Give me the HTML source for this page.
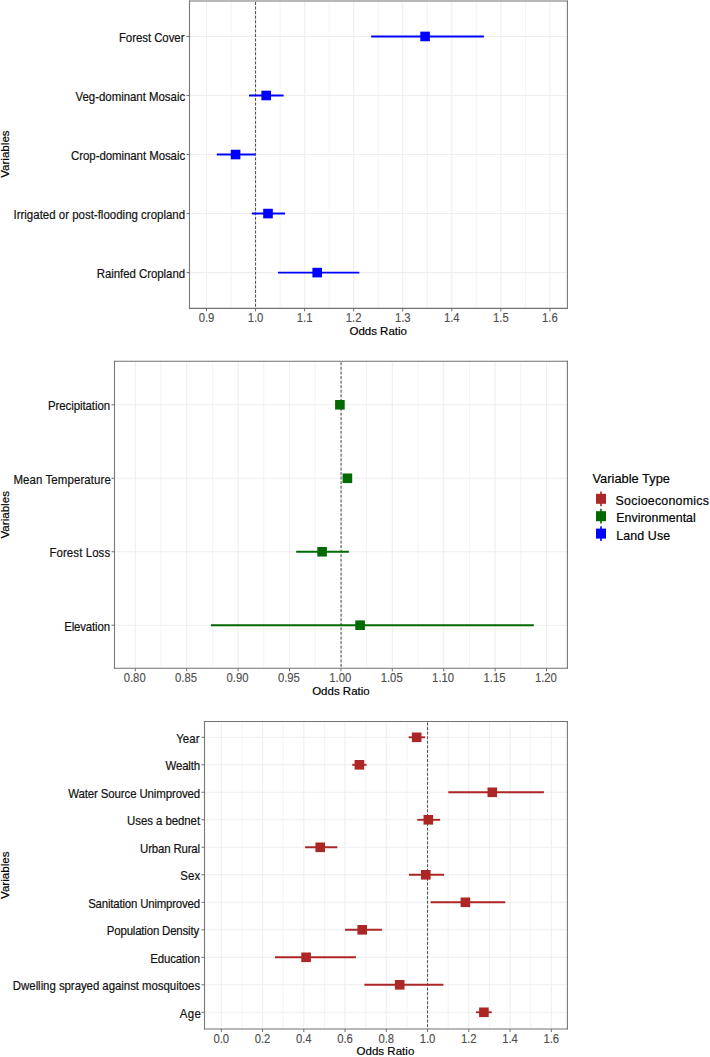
<!DOCTYPE html>
<html><head><meta charset="utf-8"><title>Odds Ratio Plots</title>
<style>
html,body{margin:0;padding:0;background:#fff;}
body{width:710px;height:1057px;overflow:hidden;}
svg{display:block;font-family:"Liberation Sans", sans-serif;}
</style></head>
<body>
<svg width="710" height="1057" viewBox="0 0 710 1057">
<rect x="0" y="0" width="710" height="1057" fill="#fff"/>
<line x1="231.03" y1="1" x2="231.03" y2="308.4" stroke="#f3f3f3" stroke-width="1"/>
<line x1="280.09" y1="1" x2="280.09" y2="308.4" stroke="#f3f3f3" stroke-width="1"/>
<line x1="329.15" y1="1" x2="329.15" y2="308.4" stroke="#f3f3f3" stroke-width="1"/>
<line x1="378.21" y1="1" x2="378.21" y2="308.4" stroke="#f3f3f3" stroke-width="1"/>
<line x1="427.27" y1="1" x2="427.27" y2="308.4" stroke="#f3f3f3" stroke-width="1"/>
<line x1="476.33" y1="1" x2="476.33" y2="308.4" stroke="#f3f3f3" stroke-width="1"/>
<line x1="525.39" y1="1" x2="525.39" y2="308.4" stroke="#f3f3f3" stroke-width="1"/>
<line x1="206.5" y1="1" x2="206.5" y2="308.4" stroke="#eeeeee" stroke-width="1.1"/>
<line x1="255.56" y1="1" x2="255.56" y2="308.4" stroke="#eeeeee" stroke-width="1.1"/>
<line x1="304.62" y1="1" x2="304.62" y2="308.4" stroke="#eeeeee" stroke-width="1.1"/>
<line x1="353.68" y1="1" x2="353.68" y2="308.4" stroke="#eeeeee" stroke-width="1.1"/>
<line x1="402.74" y1="1" x2="402.74" y2="308.4" stroke="#eeeeee" stroke-width="1.1"/>
<line x1="451.8" y1="1" x2="451.8" y2="308.4" stroke="#eeeeee" stroke-width="1.1"/>
<line x1="500.86" y1="1" x2="500.86" y2="308.4" stroke="#eeeeee" stroke-width="1.1"/>
<line x1="549.92" y1="1" x2="549.92" y2="308.4" stroke="#eeeeee" stroke-width="1.1"/>
<line x1="189.5" y1="36.45" x2="567.4" y2="36.45" stroke="#eeeeee" stroke-width="1.1"/>
<line x1="189.5" y1="95.49" x2="567.4" y2="95.49" stroke="#eeeeee" stroke-width="1.1"/>
<line x1="189.5" y1="154.53" x2="567.4" y2="154.53" stroke="#eeeeee" stroke-width="1.1"/>
<line x1="189.5" y1="213.57" x2="567.4" y2="213.57" stroke="#eeeeee" stroke-width="1.1"/>
<line x1="189.5" y1="272.61" x2="567.4" y2="272.61" stroke="#eeeeee" stroke-width="1.1"/>
<line x1="255.56" y1="1" x2="255.56" y2="308.4" stroke="#4a4a4a" stroke-width="1" stroke-dasharray="2.9 1.67" stroke-dashoffset="-1.05"/>
<line x1="371.2" y1="36.45" x2="483.9" y2="36.45" stroke="#0000ff" stroke-width="1.9"/>
<rect x="420.3" y="31.65" width="9.6" height="9.6" fill="#0000ff"/>
<line x1="249" y1="95.49" x2="283.6" y2="95.49" stroke="#0000ff" stroke-width="1.9"/>
<rect x="261.4" y="90.69" width="9.6" height="9.6" fill="#0000ff"/>
<line x1="216.8" y1="154.53" x2="255.4" y2="154.53" stroke="#0000ff" stroke-width="1.9"/>
<rect x="230.8" y="149.73" width="9.6" height="9.6" fill="#0000ff"/>
<line x1="251.8" y1="213.57" x2="285" y2="213.57" stroke="#0000ff" stroke-width="1.9"/>
<rect x="263.2" y="208.77" width="9.6" height="9.6" fill="#0000ff"/>
<line x1="278" y1="272.61" x2="359.3" y2="272.61" stroke="#0000ff" stroke-width="1.9"/>
<rect x="312.4" y="267.81" width="9.6" height="9.6" fill="#0000ff"/>
<line x1="188.95" y1="1" x2="567.95" y2="1" stroke="#727272" stroke-width="1.1"/>
<line x1="188.95" y1="308.4" x2="567.95" y2="308.4" stroke="#727272" stroke-width="1.1"/>
<line x1="189.5" y1="0.45" x2="189.5" y2="308.95" stroke="#787878" stroke-width="1.1"/>
<line x1="567.4" y1="0.45" x2="567.4" y2="308.95" stroke="#787878" stroke-width="1.1"/>
<line x1="186.5" y1="36.45" x2="189.5" y2="36.45" stroke="#707070" stroke-width="1"/>
<text id="t0" x="118.89" y="41.95" textLength="65.59" lengthAdjust="spacing" font-size="11.45" fill="#111111" stroke="#111111" stroke-width="0.18" transform="matrix(1 0 0 1.08 0 -3.356)">Forest Cover</text>
<line x1="186.5" y1="95.49" x2="189.5" y2="95.49" stroke="#707070" stroke-width="1"/>
<text id="t1" x="75.5" y="100.99" textLength="109.65" lengthAdjust="spacing" font-size="11.45" fill="#111111" stroke="#111111" stroke-width="0.18" transform="matrix(1 0 0 1.08 0 -8.079)">Veg-dominant Mosaic</text>
<line x1="186.5" y1="154.53" x2="189.5" y2="154.53" stroke="#707070" stroke-width="1"/>
<text id="t2" x="71.04" y="160.03" textLength="114.12" lengthAdjust="spacing" font-size="11.45" fill="#111111" stroke="#111111" stroke-width="0.18" transform="matrix(1 0 0 1.08 0 -12.802)">Crop-dominant Mosaic</text>
<line x1="186.5" y1="213.57" x2="189.5" y2="213.57" stroke="#707070" stroke-width="1"/>
<text id="t3" x="13.47" y="219.07" textLength="171.63" lengthAdjust="spacing" font-size="11.45" fill="#111111" stroke="#111111" stroke-width="0.18" transform="matrix(1 0 0 1.08 0 -17.526)">Irrigated or post-flooding cropland</text>
<line x1="186.5" y1="272.61" x2="189.5" y2="272.61" stroke="#707070" stroke-width="1"/>
<text id="t4" x="96.68" y="278.11" textLength="88.42" lengthAdjust="spacing" font-size="11.45" fill="#111111" stroke="#111111" stroke-width="0.18" transform="matrix(1 0 0 1.08 0 -22.249)">Rainfed Cropland</text>
<line x1="206.5" y1="308.4" x2="206.5" y2="311.4" stroke="#707070" stroke-width="1"/>
<text id="t5" x="206.5" y="322.3" text-anchor="middle" font-size="11.3" fill="#4d4d4d" stroke="#4d4d4d" stroke-width="0.12" transform="matrix(1 0 0 1.08 0 -25.784)">0.9</text>
<line x1="255.56" y1="308.4" x2="255.56" y2="311.4" stroke="#707070" stroke-width="1"/>
<text id="t6" x="255.56" y="322.3" text-anchor="middle" font-size="11.3" fill="#4d4d4d" stroke="#4d4d4d" stroke-width="0.12" transform="matrix(1 0 0 1.08 0 -25.784)">1.0</text>
<line x1="304.62" y1="308.4" x2="304.62" y2="311.4" stroke="#707070" stroke-width="1"/>
<text id="t7" x="304.62" y="322.3" text-anchor="middle" font-size="11.3" fill="#4d4d4d" stroke="#4d4d4d" stroke-width="0.12" transform="matrix(1 0 0 1.08 0 -25.784)">1.1</text>
<line x1="353.68" y1="308.4" x2="353.68" y2="311.4" stroke="#707070" stroke-width="1"/>
<text id="t8" x="353.68" y="322.3" text-anchor="middle" font-size="11.3" fill="#4d4d4d" stroke="#4d4d4d" stroke-width="0.12" transform="matrix(1 0 0 1.08 0 -25.784)">1.2</text>
<line x1="402.74" y1="308.4" x2="402.74" y2="311.4" stroke="#707070" stroke-width="1"/>
<text id="t9" x="402.74" y="322.3" text-anchor="middle" font-size="11.3" fill="#4d4d4d" stroke="#4d4d4d" stroke-width="0.12" transform="matrix(1 0 0 1.08 0 -25.784)">1.3</text>
<line x1="451.8" y1="308.4" x2="451.8" y2="311.4" stroke="#707070" stroke-width="1"/>
<text id="t10" x="451.8" y="322.3" text-anchor="middle" font-size="11.3" fill="#4d4d4d" stroke="#4d4d4d" stroke-width="0.12" transform="matrix(1 0 0 1.08 0 -25.784)">1.4</text>
<line x1="500.86" y1="308.4" x2="500.86" y2="311.4" stroke="#707070" stroke-width="1"/>
<text id="t11" x="500.86" y="322.3" text-anchor="middle" font-size="11.3" fill="#4d4d4d" stroke="#4d4d4d" stroke-width="0.12" transform="matrix(1 0 0 1.08 0 -25.784)">1.5</text>
<line x1="549.92" y1="308.4" x2="549.92" y2="311.4" stroke="#707070" stroke-width="1"/>
<text id="t12" x="549.92" y="322.3" text-anchor="middle" font-size="11.3" fill="#4d4d4d" stroke="#4d4d4d" stroke-width="0.12" transform="matrix(1 0 0 1.08 0 -25.784)">1.6</text>
<text id="t13" x="349.48" y="334.6" textLength="57.43" lengthAdjust="spacing" font-size="11.5" fill="#000000" stroke="#000000" stroke-width="0.18">Odds Ratio</text>
<text transform="translate(9.2 154.1) rotate(-90)" x="0" y="0" text-anchor="middle" font-size="11.6" fill="#000000" stroke="#000000" stroke-width="0.18">Variables</text>
<line x1="161" y1="361.3" x2="161" y2="668.3" stroke="#f3f3f3" stroke-width="1"/>
<line x1="212.4" y1="361.3" x2="212.4" y2="668.3" stroke="#f3f3f3" stroke-width="1"/>
<line x1="263.8" y1="361.3" x2="263.8" y2="668.3" stroke="#f3f3f3" stroke-width="1"/>
<line x1="315.2" y1="361.3" x2="315.2" y2="668.3" stroke="#f3f3f3" stroke-width="1"/>
<line x1="366.6" y1="361.3" x2="366.6" y2="668.3" stroke="#f3f3f3" stroke-width="1"/>
<line x1="418" y1="361.3" x2="418" y2="668.3" stroke="#f3f3f3" stroke-width="1"/>
<line x1="469.4" y1="361.3" x2="469.4" y2="668.3" stroke="#f3f3f3" stroke-width="1"/>
<line x1="520.8" y1="361.3" x2="520.8" y2="668.3" stroke="#f3f3f3" stroke-width="1"/>
<line x1="135.3" y1="361.3" x2="135.3" y2="668.3" stroke="#eeeeee" stroke-width="1.1"/>
<line x1="186.7" y1="361.3" x2="186.7" y2="668.3" stroke="#eeeeee" stroke-width="1.1"/>
<line x1="238.1" y1="361.3" x2="238.1" y2="668.3" stroke="#eeeeee" stroke-width="1.1"/>
<line x1="289.5" y1="361.3" x2="289.5" y2="668.3" stroke="#eeeeee" stroke-width="1.1"/>
<line x1="340.9" y1="361.3" x2="340.9" y2="668.3" stroke="#eeeeee" stroke-width="1.1"/>
<line x1="392.3" y1="361.3" x2="392.3" y2="668.3" stroke="#eeeeee" stroke-width="1.1"/>
<line x1="443.7" y1="361.3" x2="443.7" y2="668.3" stroke="#eeeeee" stroke-width="1.1"/>
<line x1="495.1" y1="361.3" x2="495.1" y2="668.3" stroke="#eeeeee" stroke-width="1.1"/>
<line x1="546.5" y1="361.3" x2="546.5" y2="668.3" stroke="#eeeeee" stroke-width="1.1"/>
<line x1="114.5" y1="404.8" x2="567.4" y2="404.8" stroke="#eeeeee" stroke-width="1.1"/>
<line x1="114.5" y1="478.27" x2="567.4" y2="478.27" stroke="#eeeeee" stroke-width="1.1"/>
<line x1="114.5" y1="551.74" x2="567.4" y2="551.74" stroke="#eeeeee" stroke-width="1.1"/>
<line x1="114.5" y1="625.21" x2="567.4" y2="625.21" stroke="#eeeeee" stroke-width="1.1"/>
<line x1="341.1" y1="361.3" x2="341.1" y2="668.3" stroke="#4a4a4a" stroke-width="1" stroke-dasharray="2.9 1.67" stroke-dashoffset="-1.05"/>
<rect x="335.1" y="400" width="9.6" height="9.6" fill="#006a00"/>
<rect x="342.6" y="473.47" width="9.6" height="9.6" fill="#006a00"/>
<line x1="296.2" y1="551.74" x2="348.9" y2="551.74" stroke="#006a00" stroke-width="1.9"/>
<rect x="317.3" y="546.94" width="9.6" height="9.6" fill="#006a00"/>
<line x1="210.9" y1="625.21" x2="533.8" y2="625.21" stroke="#006a00" stroke-width="1.9"/>
<rect x="355.3" y="620.41" width="9.6" height="9.6" fill="#006a00"/>
<line x1="113.95" y1="361.3" x2="567.95" y2="361.3" stroke="#727272" stroke-width="1.1"/>
<line x1="113.95" y1="668.3" x2="567.95" y2="668.3" stroke="#727272" stroke-width="1.1"/>
<line x1="114.5" y1="360.75" x2="114.5" y2="668.85" stroke="#787878" stroke-width="1.1"/>
<line x1="567.4" y1="360.75" x2="567.4" y2="668.85" stroke="#787878" stroke-width="1.1"/>
<line x1="111.5" y1="404.8" x2="114.5" y2="404.8" stroke="#707070" stroke-width="1"/>
<text id="t14" x="47.95" y="410.3" textLength="62.15" lengthAdjust="spacing" font-size="11.45" fill="#111111" stroke="#111111" stroke-width="0.18" transform="matrix(1 0 0 1.08 0 -32.824)">Precipitation</text>
<line x1="111.5" y1="478.27" x2="114.5" y2="478.27" stroke="#707070" stroke-width="1"/>
<text id="t15" x="13.4" y="483.77" textLength="97.42" lengthAdjust="spacing" font-size="11.45" fill="#111111" stroke="#111111" stroke-width="0.18" transform="matrix(1 0 0 1.08 0 -38.702)">Mean Temperature</text>
<line x1="111.5" y1="551.74" x2="114.5" y2="551.74" stroke="#707070" stroke-width="1"/>
<text id="t16" x="49.43" y="557.24" textLength="60.71" lengthAdjust="spacing" font-size="11.45" fill="#111111" stroke="#111111" stroke-width="0.18" transform="matrix(1 0 0 1.08 0 -44.579)">Forest Loss</text>
<line x1="111.5" y1="625.21" x2="114.5" y2="625.21" stroke="#707070" stroke-width="1"/>
<text id="t17" x="64.14" y="630.71" textLength="45.96" lengthAdjust="spacing" font-size="11.45" fill="#111111" stroke="#111111" stroke-width="0.18" transform="matrix(1 0 0 1.08 0 -50.457)">Elevation</text>
<line x1="135.3" y1="668.3" x2="135.3" y2="671.3" stroke="#707070" stroke-width="1"/>
<text id="t18" x="134.7" y="682.2" text-anchor="middle" font-size="11.3" fill="#4d4d4d" stroke="#4d4d4d" stroke-width="0.12" transform="matrix(1 0 0 1.08 0 -54.576)">0.80</text>
<line x1="186.7" y1="668.3" x2="186.7" y2="671.3" stroke="#707070" stroke-width="1"/>
<text id="t19" x="186.1" y="682.2" text-anchor="middle" font-size="11.3" fill="#4d4d4d" stroke="#4d4d4d" stroke-width="0.12" transform="matrix(1 0 0 1.08 0 -54.576)">0.85</text>
<line x1="238.1" y1="668.3" x2="238.1" y2="671.3" stroke="#707070" stroke-width="1"/>
<text id="t20" x="237.5" y="682.2" text-anchor="middle" font-size="11.3" fill="#4d4d4d" stroke="#4d4d4d" stroke-width="0.12" transform="matrix(1 0 0 1.08 0 -54.576)">0.90</text>
<line x1="289.5" y1="668.3" x2="289.5" y2="671.3" stroke="#707070" stroke-width="1"/>
<text id="t21" x="288.9" y="682.2" text-anchor="middle" font-size="11.3" fill="#4d4d4d" stroke="#4d4d4d" stroke-width="0.12" transform="matrix(1 0 0 1.08 0 -54.576)">0.95</text>
<line x1="340.9" y1="668.3" x2="340.9" y2="671.3" stroke="#707070" stroke-width="1"/>
<text id="t22" x="340.3" y="682.2" text-anchor="middle" font-size="11.3" fill="#4d4d4d" stroke="#4d4d4d" stroke-width="0.12" transform="matrix(1 0 0 1.08 0 -54.576)">1.00</text>
<line x1="392.3" y1="668.3" x2="392.3" y2="671.3" stroke="#707070" stroke-width="1"/>
<text id="t23" x="391.7" y="682.2" text-anchor="middle" font-size="11.3" fill="#4d4d4d" stroke="#4d4d4d" stroke-width="0.12" transform="matrix(1 0 0 1.08 0 -54.576)">1.05</text>
<line x1="443.7" y1="668.3" x2="443.7" y2="671.3" stroke="#707070" stroke-width="1"/>
<text id="t24" x="443.1" y="682.2" text-anchor="middle" font-size="11.3" fill="#4d4d4d" stroke="#4d4d4d" stroke-width="0.12" transform="matrix(1 0 0 1.08 0 -54.576)">1.10</text>
<line x1="495.1" y1="668.3" x2="495.1" y2="671.3" stroke="#707070" stroke-width="1"/>
<text id="t25" x="494.5" y="682.2" text-anchor="middle" font-size="11.3" fill="#4d4d4d" stroke="#4d4d4d" stroke-width="0.12" transform="matrix(1 0 0 1.08 0 -54.576)">1.15</text>
<line x1="546.5" y1="668.3" x2="546.5" y2="671.3" stroke="#707070" stroke-width="1"/>
<text id="t26" x="545.9" y="682.2" text-anchor="middle" font-size="11.3" fill="#4d4d4d" stroke="#4d4d4d" stroke-width="0.12" transform="matrix(1 0 0 1.08 0 -54.576)">1.20</text>
<text id="t27" x="340.95" y="694.6" text-anchor="middle" font-size="11.5" fill="#000000" stroke="#000000" stroke-width="0.18">Odds Ratio</text>
<text transform="translate(9.2 514.8) rotate(-90)" x="0" y="0" text-anchor="middle" font-size="11.6" fill="#000000" stroke="#000000" stroke-width="0.18">Variables</text>
<line x1="241.93" y1="721.5" x2="241.93" y2="1029" stroke="#f3f3f3" stroke-width="1"/>
<line x1="283.18" y1="721.5" x2="283.18" y2="1029" stroke="#f3f3f3" stroke-width="1"/>
<line x1="324.43" y1="721.5" x2="324.43" y2="1029" stroke="#f3f3f3" stroke-width="1"/>
<line x1="365.68" y1="721.5" x2="365.68" y2="1029" stroke="#f3f3f3" stroke-width="1"/>
<line x1="406.93" y1="721.5" x2="406.93" y2="1029" stroke="#f3f3f3" stroke-width="1"/>
<line x1="448.18" y1="721.5" x2="448.18" y2="1029" stroke="#f3f3f3" stroke-width="1"/>
<line x1="489.43" y1="721.5" x2="489.43" y2="1029" stroke="#f3f3f3" stroke-width="1"/>
<line x1="530.67" y1="721.5" x2="530.67" y2="1029" stroke="#f3f3f3" stroke-width="1"/>
<line x1="221.3" y1="721.5" x2="221.3" y2="1029" stroke="#eeeeee" stroke-width="1.1"/>
<line x1="262.55" y1="721.5" x2="262.55" y2="1029" stroke="#eeeeee" stroke-width="1.1"/>
<line x1="303.8" y1="721.5" x2="303.8" y2="1029" stroke="#eeeeee" stroke-width="1.1"/>
<line x1="345.05" y1="721.5" x2="345.05" y2="1029" stroke="#eeeeee" stroke-width="1.1"/>
<line x1="386.3" y1="721.5" x2="386.3" y2="1029" stroke="#eeeeee" stroke-width="1.1"/>
<line x1="427.55" y1="721.5" x2="427.55" y2="1029" stroke="#eeeeee" stroke-width="1.1"/>
<line x1="468.8" y1="721.5" x2="468.8" y2="1029" stroke="#eeeeee" stroke-width="1.1"/>
<line x1="510.05" y1="721.5" x2="510.05" y2="1029" stroke="#eeeeee" stroke-width="1.1"/>
<line x1="551.3" y1="721.5" x2="551.3" y2="1029" stroke="#eeeeee" stroke-width="1.1"/>
<line x1="204.5" y1="737.3" x2="567.4" y2="737.3" stroke="#eeeeee" stroke-width="1.1"/>
<line x1="204.5" y1="764.8" x2="567.4" y2="764.8" stroke="#eeeeee" stroke-width="1.1"/>
<line x1="204.5" y1="792.3" x2="567.4" y2="792.3" stroke="#eeeeee" stroke-width="1.1"/>
<line x1="204.5" y1="819.8" x2="567.4" y2="819.8" stroke="#eeeeee" stroke-width="1.1"/>
<line x1="204.5" y1="847.3" x2="567.4" y2="847.3" stroke="#eeeeee" stroke-width="1.1"/>
<line x1="204.5" y1="874.8" x2="567.4" y2="874.8" stroke="#eeeeee" stroke-width="1.1"/>
<line x1="204.5" y1="902.3" x2="567.4" y2="902.3" stroke="#eeeeee" stroke-width="1.1"/>
<line x1="204.5" y1="929.8" x2="567.4" y2="929.8" stroke="#eeeeee" stroke-width="1.1"/>
<line x1="204.5" y1="957.3" x2="567.4" y2="957.3" stroke="#eeeeee" stroke-width="1.1"/>
<line x1="204.5" y1="984.8" x2="567.4" y2="984.8" stroke="#eeeeee" stroke-width="1.1"/>
<line x1="204.5" y1="1012.3" x2="567.4" y2="1012.3" stroke="#eeeeee" stroke-width="1.1"/>
<line x1="427.55" y1="721.5" x2="427.55" y2="1029" stroke="#4a4a4a" stroke-width="1" stroke-dasharray="2.9 1.67" stroke-dashoffset="-1.05"/>
<line x1="408.7" y1="737.3" x2="425.1" y2="737.3" stroke="#ac2626" stroke-width="1.9"/>
<rect x="411.9" y="732.5" width="9.6" height="9.6" fill="#ac2626"/>
<line x1="352.2" y1="764.8" x2="366.6" y2="764.8" stroke="#ac2626" stroke-width="1.9"/>
<rect x="354.6" y="760" width="9.6" height="9.6" fill="#ac2626"/>
<line x1="448.3" y1="792.3" x2="543.9" y2="792.3" stroke="#ac2626" stroke-width="1.9"/>
<rect x="487.5" y="787.5" width="9.6" height="9.6" fill="#ac2626"/>
<line x1="417.3" y1="819.8" x2="440.1" y2="819.8" stroke="#ac2626" stroke-width="1.9"/>
<rect x="423.5" y="815" width="9.6" height="9.6" fill="#ac2626"/>
<line x1="305.1" y1="847.3" x2="337.3" y2="847.3" stroke="#ac2626" stroke-width="1.9"/>
<rect x="315.4" y="842.5" width="9.6" height="9.6" fill="#ac2626"/>
<line x1="409" y1="874.8" x2="444.1" y2="874.8" stroke="#ac2626" stroke-width="1.9"/>
<rect x="421" y="870" width="9.6" height="9.6" fill="#ac2626"/>
<line x1="430.6" y1="902.3" x2="505.3" y2="902.3" stroke="#ac2626" stroke-width="1.9"/>
<rect x="460.6" y="897.5" width="9.6" height="9.6" fill="#ac2626"/>
<line x1="345" y1="929.8" x2="381.9" y2="929.8" stroke="#ac2626" stroke-width="1.9"/>
<rect x="357.4" y="925" width="9.6" height="9.6" fill="#ac2626"/>
<line x1="275" y1="957.3" x2="355.9" y2="957.3" stroke="#ac2626" stroke-width="1.9"/>
<rect x="301.3" y="952.5" width="9.6" height="9.6" fill="#ac2626"/>
<line x1="364.4" y1="984.8" x2="443.4" y2="984.8" stroke="#ac2626" stroke-width="1.9"/>
<rect x="394.9" y="980" width="9.6" height="9.6" fill="#ac2626"/>
<line x1="476" y1="1012.3" x2="491.8" y2="1012.3" stroke="#ac2626" stroke-width="1.9"/>
<rect x="479.1" y="1007.5" width="9.6" height="9.6" fill="#ac2626"/>
<line x1="203.95" y1="721.5" x2="567.95" y2="721.5" stroke="#727272" stroke-width="1.1"/>
<line x1="203.95" y1="1029" x2="567.95" y2="1029" stroke="#727272" stroke-width="1.1"/>
<line x1="204.5" y1="720.95" x2="204.5" y2="1029.55" stroke="#787878" stroke-width="1.1"/>
<line x1="567.4" y1="720.95" x2="567.4" y2="1029.55" stroke="#787878" stroke-width="1.1"/>
<line x1="201.5" y1="737.3" x2="204.5" y2="737.3" stroke="#707070" stroke-width="1"/>
<text id="t28" x="176.19" y="742.8" textLength="23.30" lengthAdjust="spacing" font-size="11.45" fill="#111111" stroke="#111111" stroke-width="0.18" transform="matrix(1 0 0 1.08 0 -59.424)">Year</text>
<line x1="201.5" y1="764.8" x2="204.5" y2="764.8" stroke="#707070" stroke-width="1"/>
<text id="t29" x="165.61" y="770.3" textLength="34.49" lengthAdjust="spacing" font-size="11.45" fill="#111111" stroke="#111111" stroke-width="0.18" transform="matrix(1 0 0 1.08 0 -61.624)">Wealth</text>
<line x1="201.5" y1="792.3" x2="204.5" y2="792.3" stroke="#707070" stroke-width="1"/>
<text id="t30" x="68.26" y="797.8" textLength="131.84" lengthAdjust="spacing" font-size="11.45" fill="#111111" stroke="#111111" stroke-width="0.18" transform="matrix(1 0 0 1.08 0 -63.824)">Water Source Unimproved</text>
<line x1="201.5" y1="819.8" x2="204.5" y2="819.8" stroke="#707070" stroke-width="1"/>
<text id="t31" x="127.03" y="825.3" textLength="73.06" lengthAdjust="spacing" font-size="11.45" fill="#111111" stroke="#111111" stroke-width="0.18" transform="matrix(1 0 0 1.08 0 -66.024)">Uses a bednet</text>
<line x1="201.5" y1="847.3" x2="204.5" y2="847.3" stroke="#707070" stroke-width="1"/>
<text id="t32" x="140.13" y="852.8" textLength="59.97" lengthAdjust="spacing" font-size="11.45" fill="#111111" stroke="#111111" stroke-width="0.18" transform="matrix(1 0 0 1.08 0 -68.224)">Urban Rural</text>
<line x1="201.5" y1="874.8" x2="204.5" y2="874.8" stroke="#707070" stroke-width="1"/>
<text id="t33" x="180.28" y="880.3" textLength="19.87" lengthAdjust="spacing" font-size="11.45" fill="#111111" stroke="#111111" stroke-width="0.18" transform="matrix(1 0 0 1.08 0 -70.424)">Sex</text>
<line x1="201.5" y1="902.3" x2="204.5" y2="902.3" stroke="#707070" stroke-width="1"/>
<text id="t34" x="88.18" y="907.8" textLength="111.92" lengthAdjust="spacing" font-size="11.45" fill="#111111" stroke="#111111" stroke-width="0.18" transform="matrix(1 0 0 1.08 0 -72.624)">Sanitation Unimproved</text>
<line x1="201.5" y1="929.8" x2="204.5" y2="929.8" stroke="#707070" stroke-width="1"/>
<text id="t35" x="106.83" y="935.3" textLength="92.33" lengthAdjust="spacing" font-size="11.45" fill="#111111" stroke="#111111" stroke-width="0.18" transform="matrix(1 0 0 1.08 0 -74.824)">Population Density</text>
<line x1="201.5" y1="957.3" x2="204.5" y2="957.3" stroke="#707070" stroke-width="1"/>
<text id="t36" x="150.33" y="962.8" textLength="49.77" lengthAdjust="spacing" font-size="11.45" fill="#111111" stroke="#111111" stroke-width="0.18" transform="matrix(1 0 0 1.08 0 -77.024)">Education</text>
<line x1="201.5" y1="984.8" x2="204.5" y2="984.8" stroke="#707070" stroke-width="1"/>
<text id="t37" x="12.87" y="990.3" textLength="187.28" lengthAdjust="spacing" font-size="11.45" fill="#111111" stroke="#111111" stroke-width="0.18" transform="matrix(1 0 0 1.08 0 -79.224)">Dwelling sprayed against mosquitoes</text>
<line x1="201.5" y1="1012.3" x2="204.5" y2="1012.3" stroke="#707070" stroke-width="1"/>
<text id="t38" x="179.84" y="1017.8" textLength="20.98" lengthAdjust="spacing" font-size="11.45" fill="#111111" stroke="#111111" stroke-width="0.18" transform="matrix(1 0 0 1.08 0 -81.424)">Age</text>
<line x1="221.3" y1="1029" x2="221.3" y2="1032" stroke="#707070" stroke-width="1"/>
<text id="t39" x="221.3" y="1042.9" text-anchor="middle" font-size="11.3" fill="#4d4d4d" stroke="#4d4d4d" stroke-width="0.12" transform="matrix(1 0 0 1.08 0 -83.432)">0.0</text>
<line x1="262.55" y1="1029" x2="262.55" y2="1032" stroke="#707070" stroke-width="1"/>
<text id="t40" x="262.55" y="1042.9" text-anchor="middle" font-size="11.3" fill="#4d4d4d" stroke="#4d4d4d" stroke-width="0.12" transform="matrix(1 0 0 1.08 0 -83.432)">0.2</text>
<line x1="303.8" y1="1029" x2="303.8" y2="1032" stroke="#707070" stroke-width="1"/>
<text id="t41" x="303.8" y="1042.9" text-anchor="middle" font-size="11.3" fill="#4d4d4d" stroke="#4d4d4d" stroke-width="0.12" transform="matrix(1 0 0 1.08 0 -83.432)">0.4</text>
<line x1="345.05" y1="1029" x2="345.05" y2="1032" stroke="#707070" stroke-width="1"/>
<text id="t42" x="345.05" y="1042.9" text-anchor="middle" font-size="11.3" fill="#4d4d4d" stroke="#4d4d4d" stroke-width="0.12" transform="matrix(1 0 0 1.08 0 -83.432)">0.6</text>
<line x1="386.3" y1="1029" x2="386.3" y2="1032" stroke="#707070" stroke-width="1"/>
<text id="t43" x="386.3" y="1042.9" text-anchor="middle" font-size="11.3" fill="#4d4d4d" stroke="#4d4d4d" stroke-width="0.12" transform="matrix(1 0 0 1.08 0 -83.432)">0.8</text>
<line x1="427.55" y1="1029" x2="427.55" y2="1032" stroke="#707070" stroke-width="1"/>
<text id="t44" x="427.55" y="1042.9" text-anchor="middle" font-size="11.3" fill="#4d4d4d" stroke="#4d4d4d" stroke-width="0.12" transform="matrix(1 0 0 1.08 0 -83.432)">1.0</text>
<line x1="468.8" y1="1029" x2="468.8" y2="1032" stroke="#707070" stroke-width="1"/>
<text id="t45" x="468.8" y="1042.9" text-anchor="middle" font-size="11.3" fill="#4d4d4d" stroke="#4d4d4d" stroke-width="0.12" transform="matrix(1 0 0 1.08 0 -83.432)">1.2</text>
<line x1="510.05" y1="1029" x2="510.05" y2="1032" stroke="#707070" stroke-width="1"/>
<text id="t46" x="510.05" y="1042.9" text-anchor="middle" font-size="11.3" fill="#4d4d4d" stroke="#4d4d4d" stroke-width="0.12" transform="matrix(1 0 0 1.08 0 -83.432)">1.4</text>
<line x1="551.3" y1="1029" x2="551.3" y2="1032" stroke="#707070" stroke-width="1"/>
<text id="t47" x="551.3" y="1042.9" text-anchor="middle" font-size="11.3" fill="#4d4d4d" stroke="#4d4d4d" stroke-width="0.12" transform="matrix(1 0 0 1.08 0 -83.432)">1.6</text>
<text id="t48" x="356.48" y="1055" textLength="57.83" lengthAdjust="spacing" font-size="11.5" fill="#000000" stroke="#000000" stroke-width="0.18">Odds Ratio</text>
<text transform="translate(9.2 875.25) rotate(-90)" x="0" y="0" text-anchor="middle" font-size="11.6" fill="#000000" stroke="#000000" stroke-width="0.18">Variables</text>
<text id="t49" x="592.5" y="482.7" textLength="77.48" lengthAdjust="spacing" font-size="12.8" fill="#000" stroke="#000" stroke-width="0.18">Variable Type</text>
<line x1="601" y1="491.4" x2="601" y2="506.2" stroke="#ac2626" stroke-width="1.6"/>
<rect x="596" y="493.8" width="10" height="10" fill="#ac2626"/>
<text id="t50" x="615.6" y="504.9" textLength="93.33" lengthAdjust="spacing" font-size="12.4" fill="#000" stroke="#000" stroke-width="0.18">Socioeconomics</text>
<line x1="601" y1="508.8" x2="601" y2="523.6" stroke="#006a00" stroke-width="1.6"/>
<rect x="596" y="511.2" width="10" height="10" fill="#006a00"/>
<text id="t51" x="616.2" y="522.3" textLength="79.60" lengthAdjust="spacing" font-size="12.4" fill="#000" stroke="#000" stroke-width="0.18">Environmental</text>
<line x1="601" y1="526.2" x2="601" y2="541" stroke="#0000ff" stroke-width="1.6"/>
<rect x="596" y="528.6" width="10" height="10" fill="#0000ff"/>
<text id="t52" x="616.2" y="539.7" textLength="53.97" lengthAdjust="spacing" font-size="12.4" fill="#000" stroke="#000" stroke-width="0.18">Land Use</text>
</svg>
</body></html>
